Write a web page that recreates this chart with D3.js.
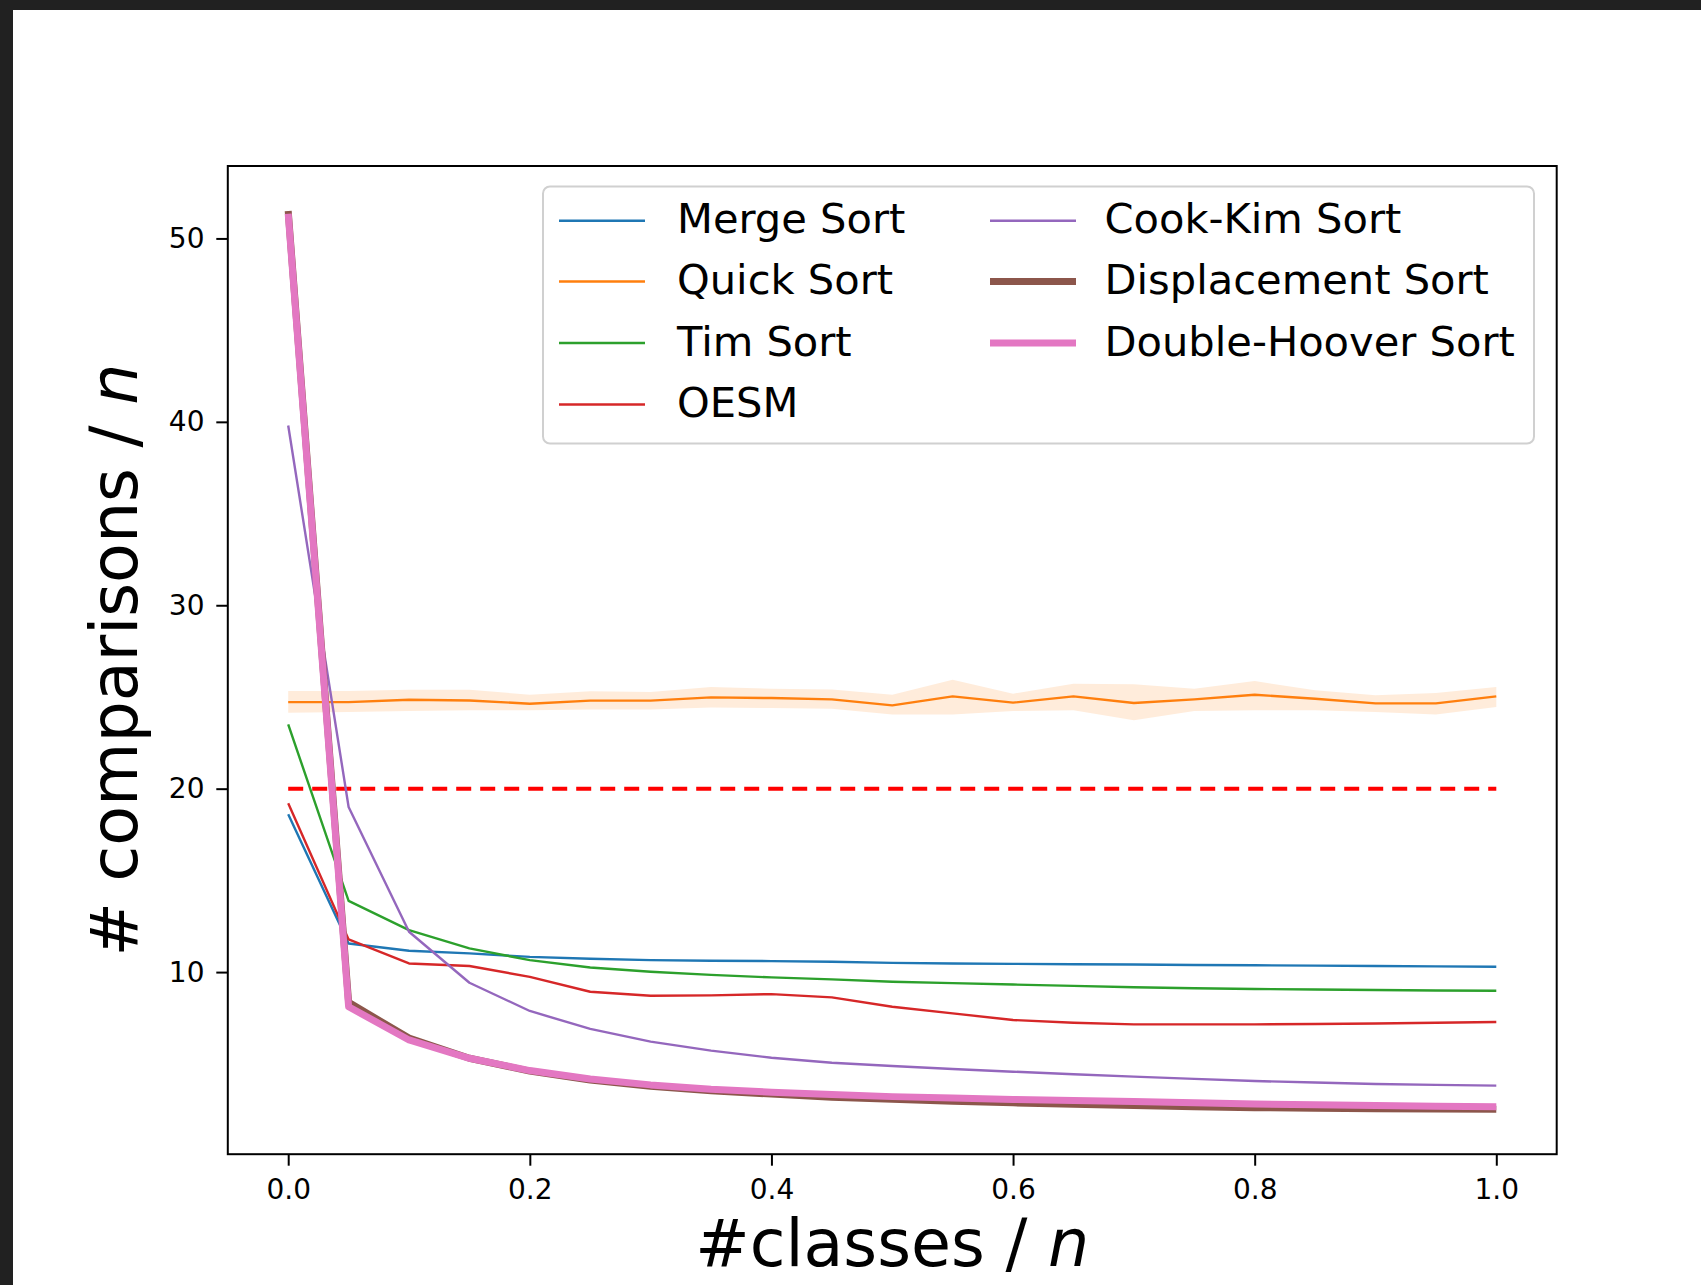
<!DOCTYPE html>
<html lang="en">
  <head>
    <meta charset="UTF-8" />
    <title>Comparisons per element</title>
    <script src="https://d3js.org/d3.v7.min.js"></script>
    <style>
      body { margin: 0; background: #fff; }
      svg { display: block; font-family: "DejaVu Sans", sans-serif; }
    </style>
  </head>

  <body>
    <svg width="1701" height="1285"></svg>
    <script>
      // x values: #classes / n
      const classFractions = [0, 0.05, 0.1, 0.15, 0.2, 0.25, 0.3, 0.35, 0.4, 0.45, 0.5,
        0.55, 0.6, 0.65, 0.7, 0.75, 0.8, 0.85, 0.9, 0.95, 1.0];

      const mergeSort = [18.6, 11.56, 11.16, 11.02, 10.83, 10.73, 10.65, 10.62, 10.6, 10.56, 10.5,
        10.47, 10.45, 10.43, 10.41, 10.39, 10.37, 10.35, 10.33, 10.31, 10.29];
      const quickSort = [24.72, 24.72, 24.85, 24.81, 24.63, 24.8, 24.8, 24.98, 24.94, 24.87, 24.54,
        25.03, 24.69, 25.03, 24.67, 24.87, 25.12, 24.9, 24.65, 24.65, 25.03];
      const quickSortHigh = [25.32, 25.32, 25.4, 25.4, 25.12, 25.31, 25.27, 25.54, 25.45, 25.41, 25.12,
        25.94, 25.18, 25.72, 25.69, 25.45, 25.87, 25.36, 25.09, 25.21, 25.54];
      const quickSortLow = [24.14, 24.18, 24.23, 24.27, 24.27, 24.31, 24.31, 24.42, 24.4, 24.36, 24.05,
        24.05, 24.23, 24.27, 23.73, 24.23, 24.27, 24.27, 24.18, 24.05, 24.45];
      const timSort = [23.5, 13.88, 12.29, 11.29, 10.65, 10.25, 10.02, 9.85, 9.71, 9.6, 9.47,
        9.4, 9.32, 9.25, 9.17, 9.12, 9.08, 9.05, 9.02, 9.0, 8.98];
      const oesm = [19.2, 11.78, 10.47, 10.33, 9.74, 8.93, 8.71, 8.73, 8.8, 8.62, 8.11,
        7.75, 7.39, 7.24, 7.15, 7.15, 7.15, 7.17, 7.2, 7.24, 7.28];
      const cookKimSort = [39.8, 19.0, 12.2, 9.42, 7.88, 6.9, 6.21, 5.72, 5.33, 5.06, 4.88,
        4.72, 4.57, 4.43, 4.3, 4.18, 4.06, 3.98, 3.9, 3.85, 3.81];
      const displacementSort = [51.5, 8.35, 6.4, 5.3, 4.6, 4.12, 3.78, 3.53, 3.35, 3.18, 3.06,
        2.96, 2.87, 2.79, 2.72, 2.66, 2.61, 2.58, 2.55, 2.53, 2.52];
      const doubleHooverSort = [51.35, 8.11, 6.3, 5.3, 4.63, 4.17, 3.85, 3.61, 3.45, 3.32, 3.21,
        3.13, 3.06, 3.0, 2.94, 2.88, 2.81, 2.77, 2.72, 2.69, 2.66];

      const referenceLevel = 20;
      const xTicks = [0, 0.2, 0.4, 0.6, 0.8, 1.0];
      const yTicks = [10, 20, 30, 40, 50];

      const series = [
        { name: "Merge Sort", values: mergeSort, color: "#1f77b4", width: 2.4 },
        { name: "Quick Sort", values: quickSort, color: "#ff7f0e", width: 2.4 },
        { name: "Tim Sort", values: timSort, color: "#2ca02c", width: 2.4 },
        { name: "OESM", values: oesm, color: "#d62728", width: 2.4 },
        { name: "Cook-Kim Sort", values: cookKimSort, color: "#9467bd", width: 2.4 },
        { name: "Displacement Sort", values: displacementSort, color: "#8c564b", width: 7 },
        { name: "Double-Hoover Sort", values: doubleHooverSort, color: "#e377c2", width: 7 },
      ];

      const svg = d3.select("svg");

      // dark screenshot border
      svg.append("rect").attr("width", 1701).attr("height", 1285).attr("fill", "#212121");
      svg.append("rect").attr("x", 13).attr("y", 10).attr("width", 1688).attr("height", 1275)
        .attr("fill", "#fff");

      const frame = { left: 227.8, top: 166, right: 1556.7, bottom: 1154.2 };

      // matplotlib style 5% margins
      const allY = series.flatMap((s) => s.values);
      const yMin = d3.min(allY), yMax = d3.max(allY);
      const pad = 0.05 * (yMax - yMin);

      const x = d3.scaleLinear().domain([-0.05, 1.05]).range([frame.left, frame.right]);
      const y = d3.scaleLinear().domain([yMin - pad, yMax + pad]).range([frame.bottom, frame.top]);

      const plot = svg.append("g");

      // quick sort spread
      const area = d3.area()
        .x((d, i) => x(classFractions[i]))
        .y0((d, i) => y(quickSortLow[i]))
        .y1((d) => y(d));
      plot.append("path")
        .datum(quickSortHigh)
        .attr("fill", "#ff7f0e")
        .attr("fill-opacity", 0.15)
        .attr("d", area);

      // reference line
      plot.append("path")
        .datum([0, 1])
        .attr("fill", "none")
        .attr("stroke", "#ff0000")
        .attr("stroke-width", 4)
        .attr("stroke-dasharray", "15,9")
        .attr("d", d3.line().x((d) => x(d)).y(() => y(referenceLevel)));

      const line = d3.line()
        .x((d, i) => x(classFractions[i]))
        .y((d) => y(d));

      series.forEach((s) => {
        plot.append("path")
          .datum(s.values)
          .attr("fill", "none")
          .attr("stroke", s.color)
          .attr("stroke-width", s.width)
          .attr("stroke-linejoin", "round")
          .attr("d", line);
      });

      // frame
      svg.append("rect")
        .attr("x", frame.left).attr("y", frame.top)
        .attr("width", frame.right - frame.left).attr("height", frame.bottom - frame.top)
        .attr("fill", "none").attr("stroke", "#000").attr("stroke-width", 2);

      const xAxis = svg.append("g")
        .attr("transform", "translate(0," + frame.bottom + ")")
        .call(d3.axisBottom(x).tickValues(xTicks).tickFormat(d3.format(".1f"))
          .tickSize(11.5).tickPadding(13.4));
      const yAxis = svg.append("g")
        .attr("transform", "translate(" + frame.left + ",0)")
        .call(d3.axisLeft(y).tickValues(yTicks).tickSize(11.5).tickPadding(11.8));

      [xAxis, yAxis].forEach((a) => {
        a.select(".domain").remove();
        a.selectAll(".tick line").attr("stroke", "#000").attr("stroke-width", 2);
        a.selectAll(".tick text")
          .attr("fill", "#000")
          .attr("font-family", "DejaVu Sans")
          .attr("font-size", 28);
      });

      // axis labels
      const xLabel = svg.append("text")
        .attr("x", (frame.left + frame.right) / 2)
        .attr("y", 1266)
        .attr("text-anchor", "middle")
        .attr("font-size", 65)
        .text("#classes / ");
      xLabel.append("tspan").attr("font-style", "italic").text("n");

      const yLabel = svg.append("text")
        .attr("transform", "translate(137," + (frame.top + frame.bottom) / 2 + ") rotate(-90)")
        .attr("text-anchor", "middle")
        .attr("font-size", 65)
        .text("# comparisons / ");
      yLabel.append("tspan").attr("font-style", "italic").text("n");

      // legend
      const legend = svg.append("g");
      legend.append("rect")
        .attr("x", 543).attr("y", 186.5)
        .attr("width", 991).attr("height", 257)
        .attr("rx", 7)
        .attr("fill", "#fff").attr("fill-opacity", 0.8)
        .attr("stroke", "#d0d0d0").attr("stroke-width", 2);

      const rowY = [220.7, 281.5, 343, 404.5];
      const cols = [
        { handle: 559, text: 677 },
        { handle: 990, text: 1104.5 },
      ];
      series.forEach((s, i) => {
        const col = cols[Math.floor(i / 4)];
        const ry = rowY[i % 4];
        legend.append("line")
          .attr("x1", col.handle).attr("x2", col.handle + 86)
          .attr("y1", ry).attr("y2", ry)
          .attr("stroke", s.color).attr("stroke-width", s.width);
        legend.append("text")
          .attr("x", col.text).attr("y", ry + 12.5)
          .attr("font-size", 41.6)
          .attr("fill", "#000")
          .text(s.name);
      });
    </script>
  </body>
</html>
